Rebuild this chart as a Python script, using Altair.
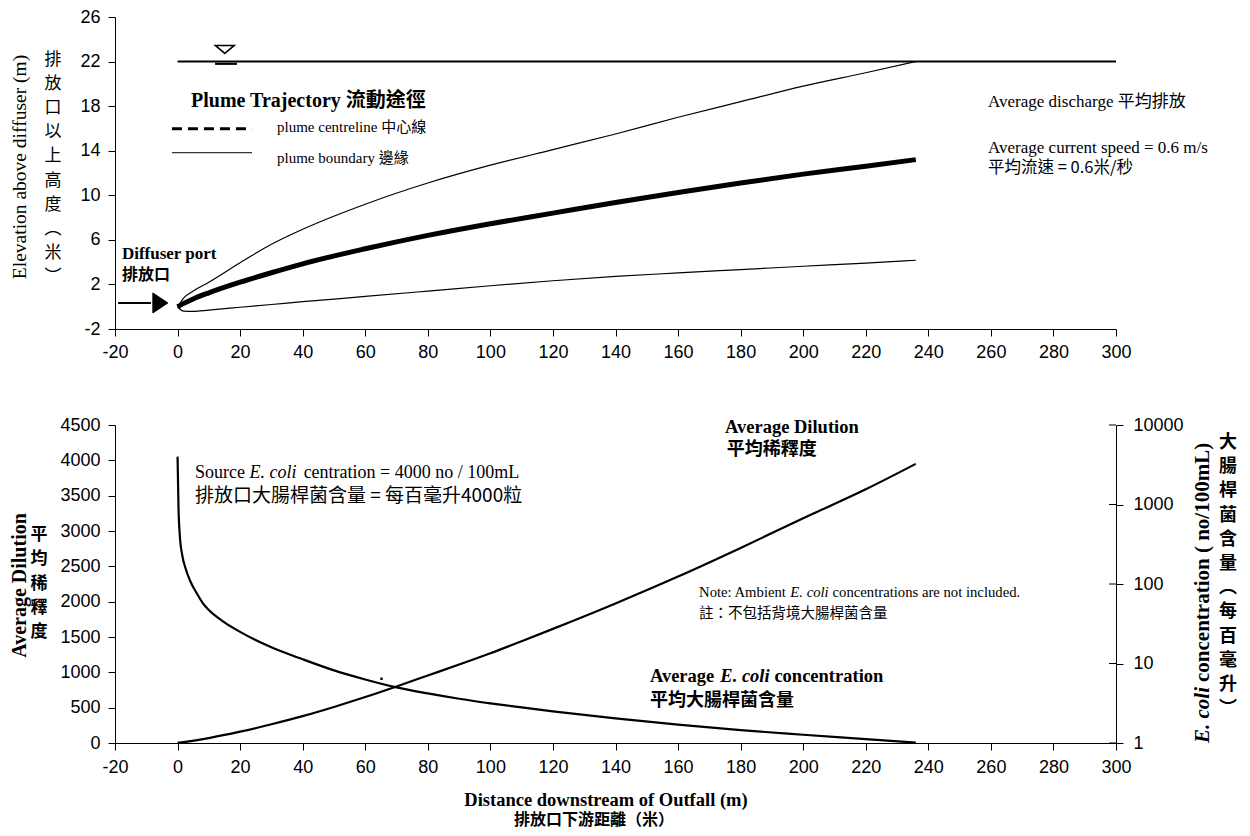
import altair as alt
import pandas as pd

# ---------------- data ----------------
plume_x = [0, 2, 5, 10, 20, 30, 40, 60, 80, 100, 120, 140, 160, 180, 200, 220, 236]
centreline_y = [0, 0.3, 0.7, 1.25, 2.2, 3.05, 3.85, 5.2, 6.4, 7.45, 8.4, 9.35, 10.25, 11.1, 11.9, 12.6, 13.2]
upper_boundary_y = [0, 0.8, 1.4, 2.2, 3.95, 5.6, 6.95, 9.2, 11.1, 12.7, 14.1, 15.5, 17.0, 18.4, 19.8, 21.0, 22.0]
lower_boundary_y = [0, -0.4, -0.42, -0.3, -0.05, 0.2, 0.45, 0.92, 1.4, 1.88, 2.33, 2.72, 3.03, 3.33, 3.63, 3.92, 4.17]
surface_x = [0, 300]
surface_y = [22, 22]

dilution_x = [0, 10, 20, 30, 40, 50, 60, 70, 80, 90, 100, 110, 120, 140, 160, 180, 200, 220, 236]
dilution_y = [1, 70, 160, 265, 380, 510, 650, 800, 955, 1110, 1270, 1440, 1615, 1975, 2355, 2760, 3180, 3590, 3950]
ecoli_x = [0, 0.3, 0.7, 1.5, 2.5, 4, 6, 8, 10, 15, 20, 30, 40, 50, 60, 70, 80, 90, 100, 110, 120, 140, 160, 180, 200, 220, 236]
ecoli_y = [4000, 900, 420, 230, 160, 110, 78, 58, 47, 33, 25, 16, 11.3, 8.2, 6.3, 5.0, 4.2, 3.6, 3.15, 2.8, 2.5, 2.04, 1.7, 1.45, 1.27, 1.12, 1.01]
stray_x = [65.2]
stray_y = [909]

X_TICKS = list(range(-20, 301, 20))
TOP_Y_TICKS = [-2, 2, 6, 10, 14, 18, 22, 26]
DIL_TICKS = list(range(0, 4501, 500))
EC_TICKS = [1, 10, 100, 1000, 10000]

SERIF = "Liberation Serif, Noto Sans CJK TC"
CJK = "Noto Sans CJK TC"
SANS = "Liberation Sans"

XS = alt.Scale(domain=[-20, 300], nice=False, zero=False)
TOP_YS = alt.Scale(domain=[-2, 26], nice=False, zero=False)
DIL_YS = alt.Scale(domain=[0, 4500], nice=False)
EC_YS = alt.Scale(type="log", domain=[1, 10000], nice=False)


def ax(values, orient, **kw):
    base = dict(values=values, orient=orient, title=None, grid=False,
                labelExpr="datum.value", labelFont=SANS, labelFontSize=18,
                labelColor="black", domainColor="black", tickColor="black",
                tickSize=7, labelPadding=8, labelFlush=False, labelOverlap=False)
    base.update(kw)
    return alt.Axis(**base)


XAX_TOP = ax(X_TICKS, "bottom", labelPadding=7)
YAX_TOP = ax(TOP_Y_TICKS, "left")
XAX_BOT = ax(X_TICKS, "bottom", labelPadding=8)


def enc_xy(xf, yf, ys, xax, yax):
    return dict(x=alt.X(f"{xf}:Q", scale=XS, axis=xax),
                y=alt.Y(f"{yf}:Q", scale=ys, axis=yax))


def line(df, xf, yf, ys, xax, yax, width, interp="monotone"):
    return alt.Chart(df).mark_line(color="black", strokeWidth=width,
                                   interpolate=interp).encode(
        **enc_xy(xf, yf, ys, xax, yax))


def dtext(x, y, s, size, ys, xax, yax, weight="normal", style="normal", font=SERIF):
    df = pd.DataFrame({"x": [x], "y": [y], "t": [s]})
    return alt.Chart(df).mark_text(align="left", baseline="middle", font=font,
                                   fontSize=size, fontWeight=weight,
                                   fontStyle=style, color="black").encode(
        text="t:N", **enc_xy("x", "y", ys, xax, yax))


def ptext(px, py, s, size, weight="normal", style="normal", font=SERIF,
          angle=0, align="center", lh=None):
    kw = dict(align=align, baseline="middle", font=font, fontSize=size,
              fontWeight=weight, fontStyle=style, color="black", angle=angle,
              lineBreak="\n")
    if lh:
        kw["lineHeight"] = lh
    return alt.Chart(pd.DataFrame({"t": [s]})).mark_text(**kw).encode(
        x=alt.value(px), y=alt.value(py), text="t:N")


def hseg(x1, x2, y, ys, xax, yax, width, dash=None):
    df = pd.DataFrame({"x": [x1], "x2": [x2], "y": [y]})
    kw = dict(color="black", strokeWidth=width)
    if dash:
        kw["strokeDash"] = dash
    return alt.Chart(df).mark_rule(**kw).encode(
        x2="x2:Q", **enc_xy("x", "y", ys, xax, yax))


def symbol(x, y, ys, xax, yax, shape, size, fill="black", sw=1):
    df = pd.DataFrame({"x": [x], "y": [y]})
    return alt.Chart(df).mark_point(shape=shape, size=size, filled=True,
                                    fill=fill, stroke="black", strokeWidth=sw,
                                    opacity=1).encode(
        **enc_xy("x", "y", ys, xax, yax))


# ---------------- top panel: plume trajectory ----------------
top_df = pd.DataFrame({"x": plume_x, "centre": centreline_y,
                       "upper": upper_boundary_y, "lower": lower_boundary_y})
surf_df = pd.DataFrame({"x": surface_x, "y": surface_y})

T = dict(ys=TOP_YS, xax=XAX_TOP, yax=YAX_TOP)

top_layers = [
    line(top_df, "x", "centre", width=5, **T),
    line(top_df, "x", "upper", width=1.2, **T),
    line(top_df, "x", "lower", width=1.2, **T),
    line(surf_df, "x", "y", width=2, interp="linear", **T),
    hseg(12.0, 19.0, 21.8, width=2.2, **T),
    symbol(15.1, 23.09, shape="M-1,-0.42L1,-0.42L0,0.42Z", size=361, fill="white", sw=1.5, **T),
    hseg(-19, -8.5, 0.34, width=2, **T),
    symbol(-5.5, 0.34, shape="M-0.75,-1L0.75,0L-0.75,1Z", size=400, **T),
    dtext(4.3, 18.44, "Plume Trajectory 流動途徑", 20, weight="bold", **T),
    hseg(-1.8, 23.8, 15.96, width=3, dash=[10, 6], **T),
    hseg(-1.8, 23.8, 13.82, width=1, **T),
    dtext(31.8, 16.13, "plume centreline 中心線", 15, **T),
    dtext(31.8, 13.38, "plume boundary 邊緣", 15, **T),
    dtext(259.1, 18.36, "Average discharge 平均排放", 17, **T),
    dtext(259.1, 14.27, "Average current speed = 0.6 m/s", 17, **T),
    dtext(259.1, 12.49, "平均流速 = 0.6米/秒", 16.5, font=CJK, **T),
    dtext(-17.8, 4.76, "Diffuser port", 17, weight="bold", **T),
    dtext(-17.8, 2.89, "排放口", 16, weight="bold", font=CJK, **T),
    ptext(-95, 150, "Elevation above diffuser (m)", 19.5, angle=270),
    ptext(-62, 43, "排\n放\n口\n以\n上\n高\n度\n︵\n米\n︶", 17, font=CJK, lh=24.1),
]
top = alt.layer(*top_layers).properties(width=1001, height=312)

# ---------------- bottom panel: dilution and E. coli ----------------
dil_df = pd.DataFrame({"x": dilution_x, "d": dilution_y})
ec_df = pd.DataFrame({"x": ecoli_x, "c": ecoli_y})
stray_df = pd.DataFrame({"x": stray_x, "y": stray_y})
ec_tick_df = pd.DataFrame({"v": EC_TICKS})

B = dict(ys=DIL_YS, xax=XAX_BOT, yax=None)

dil_line = line(dil_df, "x", "d", DIL_YS, XAX_BOT, ax(DIL_TICKS, "left"), 2.2)
ec_line = line(ec_df, "x", "c", EC_YS, XAX_BOT,
               ax(EC_TICKS, "right", labelPadding=10), 2.2)
# inner half of the right axis' crossing ticks
ec_inner_ticks = alt.Chart(ec_tick_df).mark_rule(color="black", strokeWidth=1).encode(
    x=alt.value(994), x2=alt.value(1001),
    y=alt.Y("v:Q", scale=EC_YS, axis=None))
stray = alt.Chart(stray_df).mark_point(shape="square", size=6, filled=True,
                                       color="black", opacity=1).encode(
    **enc_xy("x", "y", DIL_YS, XAX_BOT, None))

bottom_layers = [
    dil_line, ec_line, ec_inner_ticks, stray,
    dtext(5.56, 3821, "Source", 18, **B),
    dtext(22.97, 3821, "E. coli", 18, style="italic", **B),
    dtext(40.3, 3821, "centration = 4000 no / 100mL", 18, **B),
    dtext(5.56, 3495, "排放口大腸桿菌含量 = 每百毫升4000粒", 19, font=CJK, **B),
    dtext(175.0, 4471, "Average Dilution", 18.5, weight="bold", **B),
    dtext(175.6, 4146, "平均稀釋度", 18, weight="bold", font=CJK, **B),
    dtext(166.7, 2122, "Note: Ambient", 14.7, **B),
    dtext(195.9, 2122, "E. coli", 14.7, style="italic", **B),
    dtext(209.4, 2122, "concentrations are not included.", 14.7, **B),
    dtext(166.7, 1825, "註：不包括背境大腸桿菌含量", 14.5, font=CJK, **B),
    dtext(151.0, 950, "Average", 18.5, weight="bold", **B),
    dtext(173.5, 950, "E. coli", 18.5, weight="bold", style="italic", **B),
    dtext(190.8, 950, "concentration", 18.5, weight="bold", **B),
    dtext(151.0, 590, "平均大腸桿菌含量", 18, weight="bold", font=CJK, **B),
    ptext(-95, 160.5, "Average Dilution", 20, weight="bold", angle=270),
    ptext(-76, 110, "平\n均\n稀\n釋\n度", 17, weight="bold", font=CJK, lh=24.25),
    ptext(1088, 318, "E. coli", 21, weight="bold", style="italic", angle=270, align="left"),
    ptext(1088, 257, "concentration ( no/100mL)", 21, weight="bold", angle=270, align="left"),
    ptext(1113, 18, "大\n腸\n桿\n菌\n含\n量\n︵\n每\n百\n毫\n升\n︶", 18,
          weight="bold", font=CJK, lh=24.2),
    ptext(491, 374.5, "Distance downstream of Outfall (m)", 18.5, weight="bold"),
    ptext(479, 395, "排放口下游距離（米）", 16, weight="bold", font=CJK),
]
bottom = alt.layer(*bottom_layers).resolve_scale(y="independent").properties(
    width=1001, height=318)

chart = alt.vconcat(top, bottom, spacing=55).properties(
    padding={"left": 2, "top": 0, "right": 0, "bottom": 1},
    background="white",
).configure_view(stroke=None)

chart.save("out.html", embed_options={"renderer": "svg", "actions": False})
